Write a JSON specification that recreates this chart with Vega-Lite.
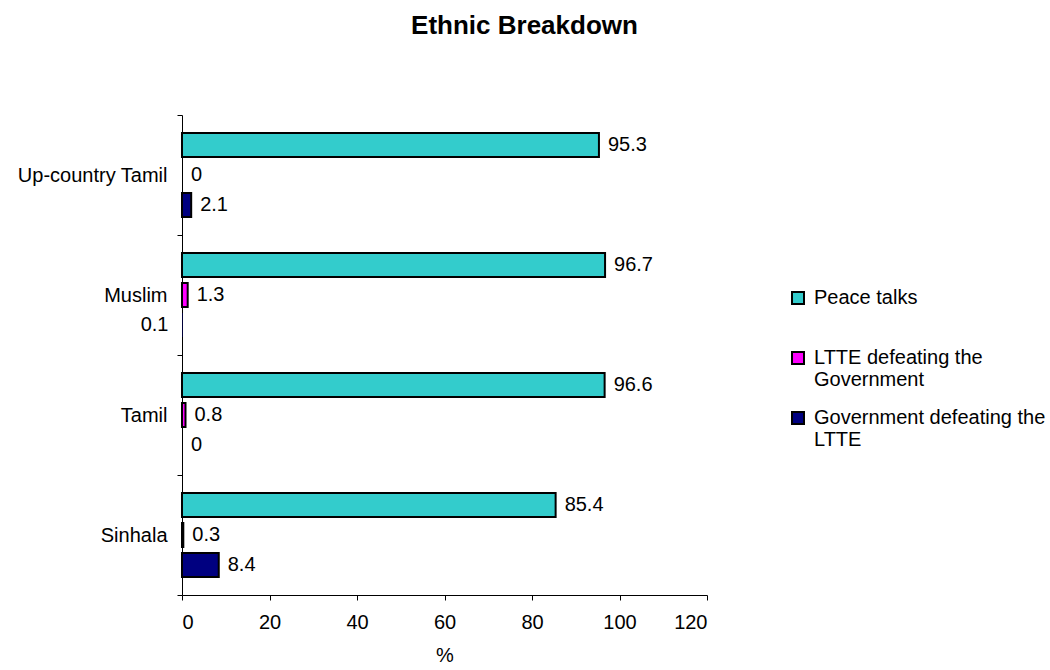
{
  "$schema": "https://vega.github.io/schema/vega-lite/v6.json",
  "width": 525,
  "height": 480,
  "autosize": "none",
  "padding": {"left": 182, "top": 115, "right": 343, "bottom": 75},
  "config": {
    "font": "Liberation Sans",
    "view": {"stroke": null},
    "axis": {"domainColor": "black", "tickColor": "black", "labelColor": "black", "titleColor": "black", "grid": false, "labelFontSize": 20, "titleFontSize": 20, "titleFontWeight": "normal", "tickSize": 5, "domainWidth": 1, "tickWidth": 1}
  },
  "title": {"text": "Ethnic Breakdown", "fontSize": 26, "fontWeight": "bold", "anchor": "middle", "frame": "group", "dx": 80, "offset": 66, "color": "black"},
  "data": {"values": [
    {"group": "Up-country Tamil", "series": "Peace talks", "value": 95.3},
    {"group": "Up-country Tamil", "series": "LTTE defeating the Government", "value": 0},
    {"group": "Up-country Tamil", "series": "Government defeating the LTTE", "value": 2.1},
    {"group": "Muslim", "series": "Peace talks", "value": 96.7},
    {"group": "Muslim", "series": "LTTE defeating the Government", "value": 1.3},
    {"group": "Muslim", "series": "Government defeating the LTTE", "value": 0.1},
    {"group": "Tamil", "series": "Peace talks", "value": 96.6},
    {"group": "Tamil", "series": "LTTE defeating the Government", "value": 0.8},
    {"group": "Tamil", "series": "Government defeating the LTTE", "value": 0},
    {"group": "Sinhala", "series": "Peace talks", "value": 85.4},
    {"group": "Sinhala", "series": "LTTE defeating the Government", "value": 0.3},
    {"group": "Sinhala", "series": "Government defeating the LTTE", "value": 8.4}
  ]},
  "encoding": {
    "y": {"field": "group", "type": "nominal", "sort": ["Up-country Tamil", "Muslim", "Tamil", "Sinhala"],
      "scale": {"paddingInner": 0, "paddingOuter": 0},
      "axis": {"title": null, "tickBand": "extent", "labelPadding": 10}},
    "yOffset": {"field": "series", "type": "nominal", "sort": ["Peace talks", "LTTE defeating the Government", "Government defeating the LTTE"],
      "scale": {"paddingInner": 0.2, "paddingOuter": 0.6}},
    "x": {"field": "value", "type": "quantitative", "scale": {"domain": [0, 120], "nice": false},
      "axis": {"title": "%", "values": [0, 20, 40, 60, 80, 100, 120], "labelPadding": 12, "titlePadding": 13}}
  },
  "layer": [
    {
      "mark": {"type": "bar", "stroke": "black", "opacity": 1,
        "strokeWidth": {"expr": "datum.value < 0.2 ? 0 : 2"}},
      "encoding": {
        "color": {"field": "series", "type": "nominal",
          "scale": {"domain": ["Peace talks", "LTTE defeating the Government", "Government defeating the LTTE"], "range": ["#33CCCC", "#FF00FF", "#000080"]},
          "legend": {"title": null, "orient": "none", "legendX": 606, "legendY": 173, "padding": 0,
            "symbolType": "square", "symbolSize": 144, "symbolStrokeColor": "black", "symbolStrokeWidth": 2, "symbolOpacity": 1,
            "labelFontSize": 20, "labelColor": "black", "labelOffset": 6, "labelLimit": 400, "rowPadding": 18,
            "labelExpr": "datum.label == 'LTTE defeating the Government' ? ['LTTE defeating the', 'Government'] : datum.label == 'Government defeating the LTTE' ? ['Government defeating the', 'LTTE'] : [datum.label, '']"}
        }
      }
    },
    {
      "mark": {"type": "text", "baseline": "middle", "fontSize": 20, "color": "black",
        "align": {"expr": "datum.value == 0.1 ? 'right' : 'left'"},
        "dx": {"expr": "datum.value == 0.1 ? -14 : 9"}},
      "encoding": {"text": {"field": "value", "type": "nominal"}}
    }
  ]
}
